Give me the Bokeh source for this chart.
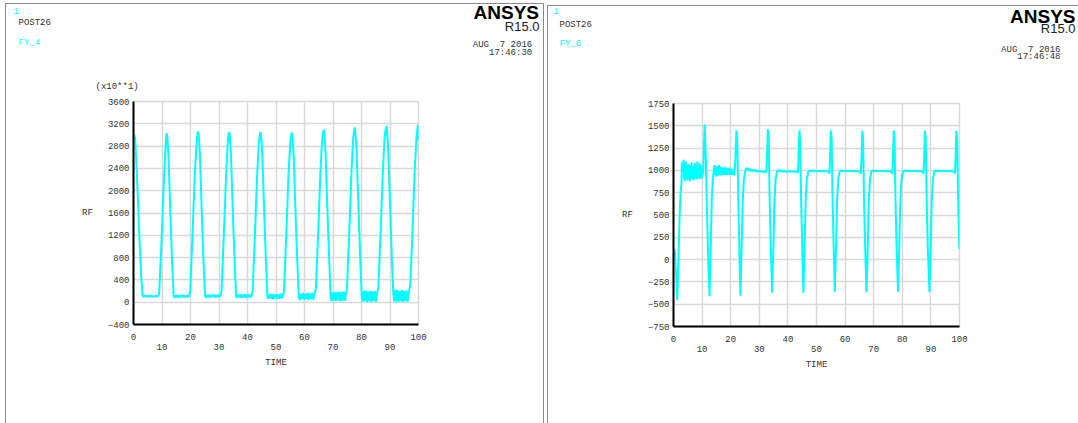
from bokeh.plotting import figure
from bokeh.models import Label, LinearAxis, FixedTicker, Range1d
from bokeh.layouts import row, column
from bokeh.embed import file_html
from bokeh.resources import INLINE

# ---------------- data ----------------
# FY_4 reaction force (plotted in units of x10**1) versus TIME
t_fy4 = [
    0.0, 0.2, 0.4, 0.6, 1.2, 2.0, 2.7, 3.2,
    3.5, 3.9, 4.3, 4.7, 5.1, 5.5, 5.9, 6.3, 6.7, 7.1, 7.5, 7.9, 8.3, 8.7,
    9.0, 9.8, 10.6, 11.2, 11.5, 11.7, 11.9, 12.3, 13.0, 13.6, 14.1,
    14.4, 14.8, 15.2, 15.6, 16.0, 16.4, 16.8, 17.2, 17.6, 18.0, 18.4, 18.8, 19.2, 19.6,
    19.9, 20.7, 21.5, 22.2, 22.5, 22.7, 22.9, 23.3, 24.0, 24.6, 25.1,
    25.4, 25.8, 26.2, 26.6, 27.0, 27.4, 27.8, 28.2, 28.6, 29.0, 29.4, 29.8, 30.2, 30.6,
    30.9, 31.7, 32.5, 33.1, 33.4, 33.6, 33.8, 34.2, 34.9, 35.5, 36.0,
    36.3, 36.7, 37.1, 37.5, 37.9, 38.3, 38.7, 39.1, 39.5, 39.9, 40.3, 40.7, 41.1, 41.5,
    41.8, 42.6, 43.4, 44.0, 44.4, 44.6, 44.8, 45.2, 45.9, 46.5, 47.0,
    47.3, 47.7, 48.1, 48.5, 48.9, 49.3, 49.7, 50.1, 50.5, 50.9, 51.3, 51.7, 52.1, 52.5,
    52.8, 53.6, 54.4, 55.0, 55.4, 55.6, 55.8, 56.2, 56.9, 57.5, 58.0,
    58.3, 58.7, 59.1, 59.5, 59.9, 60.3, 60.7, 61.1, 61.5, 61.9, 62.3, 62.7, 63.1, 63.5,
    64.0, 64.8, 65.6, 66.2, 66.6, 66.8, 67.0, 67.4, 68.1, 68.7, 69.2,
    69.5, 69.9, 70.2, 70.6, 71.0, 71.4, 71.8, 72.2, 72.6, 73.0, 73.4, 73.8, 74.2, 74.6,
    74.9, 75.7, 76.5, 77.1, 77.5, 77.7, 77.9, 78.3, 79.0, 79.6, 80.1,
    80.4, 80.8, 81.1, 81.5, 81.9, 82.3, 82.7, 83.1, 83.5, 83.9, 84.3, 84.7, 85.1, 85.5,
    85.9, 86.7, 87.5, 88.1, 88.5, 88.7, 88.8, 89.0, 89.4, 90.1, 90.7, 91.2,
    91.5, 91.9, 92.2, 92.6, 93.0, 93.4, 93.8, 94.2, 94.6, 95.0, 95.4, 95.8, 96.2, 96.6,
    97.1, 97.9, 98.7, 99.3, 99.6, 99.8, 99.9, 100.0,
]
rf_fy4 = [
    2950, 3010, 2980, 2900, 2300, 1250, 450, 120,
    95, 115, 100, 120, 95, 110, 100, 120, 95, 110, 100, 120, 100, 115,
    150, 1050, 2100, 2750, 2980, 3030, 2950, 2600, 1500, 650, 110,
    80, 120, 90, 125, 85, 115, 95, 130, 85, 120, 95, 125, 90, 120,
    200, 1200, 2300, 2900, 3040, 3060, 2990, 2650, 1550, 700, 110,
    80, 130, 90, 135, 85, 125, 95, 140, 85, 125, 90, 135, 95, 120,
    200, 1200, 2300, 2880, 3030, 3050, 2980, 2650, 1550, 700, 110,
    75, 135, 85, 140, 80, 130, 90, 145, 80, 130, 85, 140, 90, 125,
    200, 1200, 2300, 2880, 3030, 3050, 2980, 2650, 1550, 700, 100,
    60, 140, 70, 150, 55, 135, 70, 145, 60, 140, 65, 150, 70, 130,
    200, 1200, 2300, 2870, 3020, 3040, 2970, 2640, 1550, 700, 90,
    40, 150, 55, 165, 45, 150, 60, 170, 40, 155, 55, 165, 45, 150,
    250, 1250, 2350, 2920, 3070, 3090, 3010, 2680, 1580, 720, 80,
    20, 170, 30, 185, 25, 175, 35, 190, 20, 180, 30, 190, 25, 170,
    250, 1250, 2350, 2950, 3110, 3130, 3040, 2700, 1600, 720, 100,
    10, 200, 20, 210, 0, 190, 15, 205, 5, 195, 20, 200, 10, 180,
    250, 1250, 2350, 2950, 3120, 2980, 3170, 3060, 2720, 1620, 720, 120,
    10, 215, 15, 220, 0, 200, 20, 215, 5, 205, 20, 210, 10, 190,
    300, 1300, 2400, 2950, 3100, 3180, 2900, 3120,
]

# FY_6 reaction force versus TIME
t_fy6 = [
    0.4, 0.9, 1.3, 1.7, 2.1, 2.5, 2.8,
    2.9, 3.1, 3.3, 3.5, 3.7, 3.9, 4.1, 4.3, 4.5, 4.7, 4.9, 5.1, 5.3, 5.5, 5.7, 5.9,
    6.1, 6.3, 6.5, 6.7, 6.9, 7.1, 7.3, 7.5, 7.7, 7.9, 8.1, 8.3, 8.5, 8.7, 8.9, 9.1,
    9.3, 9.5, 9.7, 9.9, 10.1,
    10.4, 10.9, 11.3, 11.7, 12.1, 12.6, 13.0, 13.4, 13.8, 14.1,
    14.3, 14.5, 14.7, 14.9, 15.1, 15.3, 15.5, 15.7, 15.9, 16.1, 16.3, 16.5, 16.7, 16.9,
    17.1, 17.3, 17.5, 17.7, 17.9, 18.1, 18.3, 18.5, 18.7, 18.9, 19.1, 19.3, 19.5, 19.7,
    19.9, 20.1, 20.3, 20.5, 20.7, 20.9, 21.1, 21.3,
    21.6, 22.0, 22.3, 22.7, 23.0, 23.4, 23.8, 24.2, 24.6, 25.1,
    25.4, 25.8, 26.2, 26.6, 27.0, 27.4, 27.8, 28.2, 28.6, 29.0, 29.4, 29.8, 30.2, 30.6,
    31.0, 31.4, 31.8, 32.2, 32.5,
    32.7, 33.0, 33.3, 33.6, 34.0, 34.5, 34.9, 35.3, 35.7, 36.2,
    36.6, 37.2, 37.8, 38.4, 39.0, 39.6, 40.2, 40.8, 41.4, 42.0, 42.6, 43.2, 43.5,
    43.7, 44.0, 44.3, 44.6, 45.0, 45.4, 45.8, 46.2, 46.6, 47.1,
    47.5, 48.1, 48.7, 49.3, 49.9, 50.5, 51.1, 51.7, 52.3, 52.9, 53.5, 54.1, 54.5,
    54.7, 55.0, 55.3, 55.6, 56.0, 56.4, 56.8, 57.2, 57.6, 58.1,
    58.5, 59.1, 59.7, 60.3, 60.9, 61.5, 62.1, 62.7, 63.3, 63.9, 64.5, 65.2, 65.5,
    65.7, 66.0, 66.3, 66.6, 67.0, 67.5, 67.9, 68.3, 68.7, 69.2,
    69.6, 70.2, 70.8, 71.4, 72.0, 72.6, 73.2, 73.8, 74.4, 75.0, 75.6, 76.2, 76.5,
    76.7, 77.0, 77.3, 77.6, 78.0, 78.5, 78.9, 79.3, 79.7, 80.2,
    80.6, 81.2, 81.8, 82.4, 83.0, 83.6, 84.2, 84.8, 85.4, 86.0, 86.6, 87.1, 87.4,
    87.6, 87.9, 88.2, 88.5, 88.9, 89.5, 89.9, 90.3, 90.7, 91.2,
    91.6, 92.2, 92.8, 93.4, 94.0, 94.6, 95.2, 95.8, 96.4, 97.0, 97.6, 98.1, 98.4,
    98.6, 98.9, 99.2, 99.5, 99.8, 100.0,
]
rf_fy6 = [
    120, -150, -455, -50, 450, 760, 850,
    1050, 1090, 1000, 1120, 900, 1080, 880, 1100, 920, 1060, 890, 1040, 900, 1070, 880, 1030,
    900, 1090, 910, 1050, 890, 1000, 920, 1080, 900, 1040, 930, 1100, 900, 1050, 920, 1080,
    910, 1060, 900, 1030, 930,
    1000, 1515, 1150, 550, 50, -410, 100, 700, 920, 1000,
    1060, 950, 1040, 930, 1050, 960, 1030, 940, 1060, 950, 1020, 940, 1040, 960,
    1030, 950, 1020, 960, 1040, 950, 1010, 960, 1030, 950, 1020, 960, 1030, 950,
    1010, 960, 1020, 950, 1000, 960, 1010, 940,
    1100, 1450, 1350, 600, 150, -405, 100, 650, 900, 990,
    1030, 1010, 1025, 995, 1015, 990, 1010, 990, 1005, 985, 1000, 985, 995, 980,
    995, 985, 990, 975, 990,
    1150, 1460, 1380, 700, 150, -370, 100, 650, 900, 985,
    1005, 990, 1000, 985, 995, 985, 995, 985, 990, 985, 990, 980, 975,
    1120, 1450, 1350, 700, 150, -375, 100, 650, 900, 985,
    1000, 990, 1000, 990, 995, 990, 995, 990, 995, 990, 990, 985, 965,
    1100, 1450, 1350, 700, 150, -360, 100, 650, 900, 985,
    1000, 990, 1000, 990, 995, 990, 995, 990, 995, 990, 990, 985, 965,
    1100, 1445, 1350, 700, 150, -365, 100, 650, 900, 985,
    1000, 990, 1000, 990, 995, 990, 995, 990, 995, 990, 990, 985, 965,
    1100, 1450, 1350, 700, 150, -360, 100, 650, 900, 985,
    1000, 990, 1000, 990, 995, 990, 995, 990, 995, 990, 990, 985, 965,
    1100, 1445, 1350, 700, 150, -365, 100, 650, 900, 985,
    1000, 990, 1000, 990, 995, 990, 995, 990, 995, 990, 990, 985, 965,
    1100, 1445, 1350, 700, 300, 120,
]

x_even_ticks = [0, 20, 40, 60, 80, 100]
x_odd_ticks = [10, 30, 50, 70, 90]
x_grid_ticks = [0, 10, 20, 30, 40, 50, 60, 70, 80, 90, 100]
y_ticks_fy4 = [-400, 0, 400, 800, 1200, 1600, 2000, 2400, 2800, 3200, 3600]
y_ticks_fy6 = [-750, -500, -250, 0, 250, 500, 750, 1000, 1250, 1500, 1750]

MONO = "Liberation Mono"
SANS = "Liberation Sans"
CYAN = "#00ffff"
TXT = "#333333"
BORDER = "1px solid #8a8a8a"


def no_frame_align(p):
    try:
        p.frame_align = False
    except Exception:
        pass


def style_axis(ax):
    ax.axis_line_color = "black"
    ax.axis_line_width = 2
    ax.major_tick_line_color = None
    ax.minor_tick_line_color = None
    ax.major_tick_out = 0
    ax.major_tick_in = 0
    ax.minor_tick_out = 0
    ax.major_label_text_font = MONO
    ax.major_label_text_font_size = "9px"
    ax.major_label_text_color = TXT
    ax.axis_label_text_font = MONO
    ax.axis_label_text_font_size = "9px"
    ax.axis_label_text_font_style = "normal"
    ax.axis_label_text_color = TXT


def make_header(width, height):
    # a text strip whose frame spans the whole canvas; positions are in pixels from top-left
    h = figure(width=width, height=height, x_range=Range1d(0, width), y_range=Range1d(height, 0),
               x_axis_type=None, y_axis_type=None, output_backend="svg", toolbar_location=None,
               min_border_left=0, min_border_right=0, min_border_top=0, min_border_bottom=0)
    h.outline_line_color = None
    h.background_fill_color = "white"
    h.border_fill_color = "white"
    no_frame_align(h)
    return h


def add_text(h, x, y, text, color=TXT, size="9px", font=MONO, align="left", bold=False):
    h.add_layout(Label(x=x, y=y, text=text, text_color=color, text_font=font,
                       text_font_size=size, text_align=align, text_baseline="middle",
                       text_font_style="bold" if bold else "normal"))


def make_chart(t, rf, ylo, yhi, yticks, width, height, mb):
    p = figure(width=width, height=height, x_range=Range1d(0, 100), y_range=Range1d(ylo, yhi),
               output_backend="svg", toolbar_location=None,
               min_border_left=mb[0], min_border_right=mb[1],
               min_border_top=mb[2], min_border_bottom=mb[3])
    no_frame_align(p)
    p.line(t, rf, line_color=CYAN, line_width=2)
    xa = p.xaxis[0]
    xa.ticker = FixedTicker(ticks=x_even_ticks)
    style_axis(xa)
    xa.major_label_standoff = 9
    xa2 = LinearAxis(ticker=FixedTicker(ticks=x_odd_ticks), axis_label="TIME")
    style_axis(xa2)
    xa2.axis_line_color = None
    xa2.major_label_standoff = 1
    xa2.axis_label_standoff = 5
    p.add_layout(xa2, "below")
    ya = p.yaxis[0]
    ya.ticker = FixedTicker(ticks=yticks)
    style_axis(ya)
    ya.major_label_standoff = 4
    ya.axis_label = "RF"
    ya.axis_label_orientation = "horizontal"
    ya.axis_label_standoff = 12
    p.xgrid[0].ticker = FixedTicker(ticks=x_grid_ticks)
    p.ygrid[0].ticker = FixedTicker(ticks=yticks)
    for g in (p.xgrid[0], p.ygrid[0]):
        g.grid_line_color = "#d9d9d9"
        g.grid_line_width = 1.5
    p.outline_line_color = "#d9d9d9"
    p.outline_line_width = 1.5
    p.background_fill_color = "white"
    p.border_fill_color = "white"
    return p


DATE = "AUG \u00a07 2016"

# ---- left window (FY_4) ----
h1 = make_header(537, 90)
add_text(h1, 7, 6, "1", color=CYAN)
add_text(h1, 12, 18.7, "POST26")
add_text(h1, 12, 38, "FY_4", color=CYAN)
add_text(h1, 532.5, 7.7, "ANSYS", color="black", size="19px", font=SANS, align="right", bold=True)
add_text(h1, 533, 22.3, "R15.0", color="#222222", size="13px", font=SANS, align="right")
add_text(h1, 525.7, 40.5, DATE, align="right")
add_text(h1, 525.7, 48.5, "17:46:30", align="right")
add_text(h1, 89, 82.5, "(x10**1)")
c1 = make_chart(t_fy4, rf_fy4, -400, 3600, y_ticks_fy4, 537, 329, (127, 125, 7, 99))
panel1 = column(h1, c1, margin=(3, 0, 0, 5),
                styles={"border-left": BORDER, "border-top": BORDER, "border-right": BORDER})

# ---- right window (FY_6) ----
h2 = make_header(530, 92)
add_text(h2, 5, 4.5, "1", color=CYAN)
add_text(h2, 11, 18, "POST26")
add_text(h2, 11, 37.3, "FY_6", color=CYAN)
add_text(h2, 527, 9.5, "ANSYS", color="black", size="19px", font=SANS, align="right", bold=True)
add_text(h2, 527, 22, "R15.0", color="#222222", size="13px", font=SANS, align="right")
add_text(h2, 512, 43.5, DATE, align="right")
add_text(h2, 512, 50.7, "17:46:48", align="right")
c2 = make_chart(t_fy6, rf_fy6, -750, 1750, y_ticks_fy6, 530, 325, (125, 119, 5, 97))
panel2 = column(h2, c2, margin=(5, 0, 0, 3),
                styles={"border-left": BORDER, "border-top": BORDER})

layout = row(panel1, panel2)
open("out.html", "w").write(file_html(layout, INLINE))
